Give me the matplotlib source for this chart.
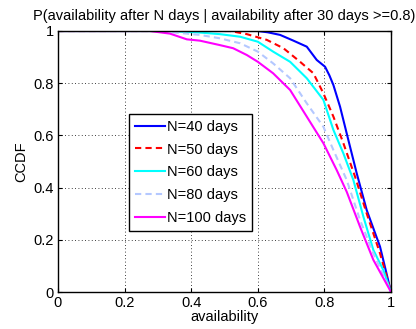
import numpy as np
import matplotlib
matplotlib.use("Agg")
import matplotlib.pyplot as plt

plt.rcParams['font.family'] = ['Liberation Sans', 'DejaVu Sans']

# curves (availability, CCDF)
x40 = [0, 0.60, 0.63, 0.667, 0.707, 0.747, 0.777, 0.802, 0.815, 0.827, 0.847, 0.872, 0.897, 0.927, 0.967, 1.0]
y40 = [1, 1.0, 0.995, 0.985, 0.963, 0.94, 0.889, 0.863, 0.83, 0.793, 0.71, 0.582, 0.455, 0.314, 0.174, 0.0]

x50 = [0, 0.517, 0.567, 0.627, 0.677, 0.727, 0.767, 0.797, 0.827, 0.857, 0.892, 0.927, 0.967, 1.0]
y50 = [1, 1.0, 0.988, 0.966, 0.934, 0.882, 0.838, 0.761, 0.672, 0.57, 0.442, 0.301, 0.148, 0.0]

x60 = [0, 0.33, 0.426, 0.486, 0.547, 0.60, 0.646, 0.697, 0.747, 0.797, 0.827, 0.857, 0.887, 0.917, 0.947, 0.977, 1.0]
y60 = [1, 1.0, 0.994, 0.988, 0.978, 0.959, 0.921, 0.882, 0.819, 0.736, 0.621, 0.531, 0.429, 0.289, 0.161, 0.084, 0.0]

x80 = [0, 0.30, 0.37, 0.426, 0.486, 0.547, 0.60, 0.646, 0.697, 0.747, 0.797, 0.827, 0.867, 0.907, 0.947, 1.0]
y80 = [1, 1.0, 0.992, 0.985, 0.972, 0.953, 0.921, 0.876, 0.819, 0.723, 0.633, 0.544, 0.429, 0.276, 0.148, 0.0]

x100 = [0, 0.276, 0.336, 0.387, 0.426, 0.486, 0.526, 0.567, 0.60, 0.646, 0.697, 0.747, 0.797, 0.837, 0.867, 0.907, 0.947, 1.0]
y100 = [1, 1.0, 0.99, 0.968, 0.963, 0.946, 0.934, 0.908, 0.882, 0.838, 0.774, 0.672, 0.57, 0.467, 0.384, 0.25, 0.123, 0.0]

fs = 10.5

fig = plt.figure(figsize=(4.16, 3.29), dpi=100)
ax = fig.add_axes([58/416, 1 - 292/329, 333/416, 261/329])

ax.plot(x40, y40, color='#0000ff', lw=1.5, label='N=40 days')
ax.plot(x50, y50, color='#ff0000', lw=1.5, ls=(0, (3, 2)), label='N=50 days')
ax.plot(x60, y60, color='#00ffff', lw=1.5, label='N=60 days')
ax.plot(x80, y80, color='#b4c8ff', lw=1.5, ls=(0, (3, 2)), label='N=80 days')
ax.plot(x100, y100, color='#ff00ff', lw=1.5, label='N=100 days')

ax.set_xlim(0, 1)
ax.set_ylim(0, 1)
ax.set_xticks([0, 0.2, 0.4, 0.6, 0.8, 1])
ax.set_xticklabels(['0', '0.2', '0.4', '0.6', '0.8', '1'])
ax.set_yticks([0, 0.2, 0.4, 0.6, 0.8, 1])
ax.set_yticklabels(['0', '0.2', '0.4', '0.6', '0.8', '1'])
ax.tick_params(direction='in', top=True, right=True, length=3, labelsize=fs, pad=3)
ax.grid(True, color='black', ls=(0, (1, 3)), lw=0.6)
for s in ax.spines.values():
    s.set_linewidth(1.0)

ax.set_xlabel('availability', fontsize=fs, labelpad=0)
ax.set_ylabel('CCDF', fontsize=fs, labelpad=4)
ax.set_title('P(availability after N days | availability after 30 days >=0.8)', fontsize=fs, pad=8)

leg = ax.legend(loc='upper left', bbox_to_anchor=(0.213, 0.682), fontsize=fs,
                fancybox=False, framealpha=1, edgecolor='black',
                handlelength=2.1, handletextpad=0.1, labelspacing=0.6,
                borderpad=0.4, borderaxespad=0)
leg.get_frame().set_linewidth(1.0)

fig.savefig('out.png', dpi=100)
